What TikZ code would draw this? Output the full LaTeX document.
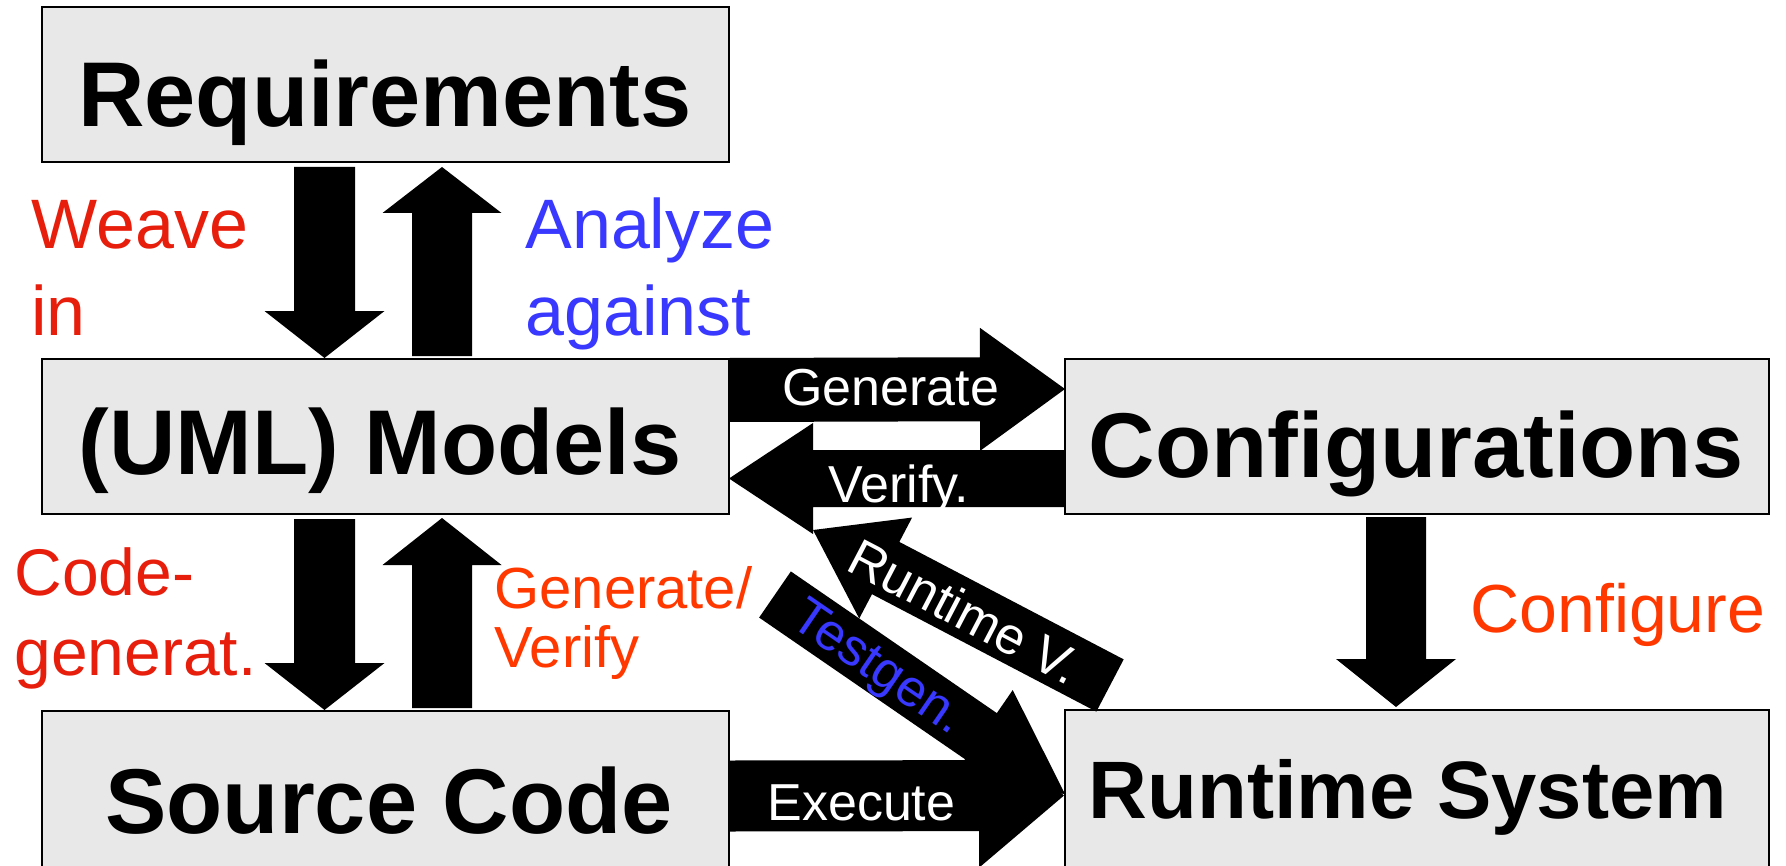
\documentclass[tikz,border=0pt]{standalone}
\usepackage{fontspec}
\setmainfont{Liberation Sans}
\usetikzlibrary{calc}
\definecolor{boxgray}{RGB}{232,232,232}
\definecolor{lblred}{RGB}{232,30,12}
\definecolor{lblorange}{RGB}{255,56,0}
\definecolor{lblblue}{RGB}{56,56,255}
\newcommand\pxfont[1]{\fontsize{#1}{#1}\selectfont}
% #1 tail coordinate, #2 tip coordinate, #3 shaft half width, #4 head half width, #5 head length (pt)
\newcommand\blockarrow[5]{%
  \pgfpointdiff{\pgfpointanchor{#1}{center}}{\pgfpointanchor{#2}{center}}%
  \pgfgetlastxy{\baDx}{\baDy}%
  \pgfmathsetmacro\baAng{atan2(\baDy,\baDx)}%
  \pgfmathsetmacro\baLen{veclen(\baDx,\baDy)}%
  \pgfmathsetmacro\baBase{\baLen-#5}%
  \begin{scope}[shift={(#1)}, rotate=\baAng, x=1pt, y=1pt]
    \fill[black] (0,-#3) -- (\baBase,-#3) -- (\baBase,-#4) -- (\baLen,0)
      -- (\baBase,#4) -- (\baBase,#3) -- (0,#3) -- cycle;
  \end{scope}}
\begin{document}
\begin{tikzpicture}[x=0.5pt,y=-0.5pt,
  box/.style={draw=black, line width=1pt, fill=boxgray, minimum width=343.5pt,
    minimum height=77.5pt, inner sep=0pt},
  tallbox/.style={box, minimum height=100pt},
  widebox/.style={minimum width=352pt},
  boxtext/.style={font=\bfseries\pxfont{46}, anchor=base, inner sep=0pt},
  lblbig/.style={anchor=base west, inner sep=0pt},
  arrowtext/.style={text=white, font=\pxfont{26}, inner sep=0pt}]
\useasboundingbox (0,0) rectangle (1786,866);
\clip (0,0) rectangle (1786,866);
\fill[white] (0,0) rectangle (1786,866);

% boxes
\node[box] (req) at (385.5,84.5) {};
\node[box] (models) at (385.5,436.5) {};
\node[tallbox] (src) at (385.5,811) {};
\node[box, widebox] (conf) at (1417,436.5) {};
\node[tallbox, widebox] (rt) at (1417,810) {};

\node[boxtext] (reqT) at (385,127) {Requirements};
\node[boxtext] (modelsT) at (380,474) {(UML) Models};
\node[boxtext] (srcT) at (389,833) {Source Code};
\node[boxtext] (confT) at (1416,477) {Configurations};
\node[boxtext, font=\bfseries\pxfont{40.75}] (rtT) at (1408,818) {Runtime System};

% arrow end points
\coordinate (weaveS) at (324.5,167);  \coordinate (weaveE) at (324.5,358);
\coordinate (anaS) at (442,356);      \coordinate (anaE) at (442,167);
\coordinate (cgS) at (324.5,519);     \coordinate (cgE) at (324.5,710);
\coordinate (gvS) at (442,708);       \coordinate (gvE) at (442,518);
\coordinate (cfgS) at (1396,517);     \coordinate (cfgE) at (1396,707);
\coordinate (genS) at (729,390);      \coordinate (genE) at (1065,389);
\coordinate (verS) at (1064,478.5);   \coordinate (verE) at (729,478.5);
\coordinate (exeS) at (729,796);      \coordinate (exeE) at (1064,795.5);
\coordinate (rtvS) at (1110,685.5);   \coordinate (rtvE) at (813,530);
\coordinate (tgS) at (775,594.5);     \coordinate (tgE) at (1065,794);

\blockarrow{weaveS}{weaveE}{15.25}{30}{23.5}
\blockarrow{anaS}{anaE}{15}{29.75}{23}
\blockarrow{cgS}{cgE}{15.25}{30}{23.5}
\blockarrow{gvS}{gvE}{15}{29.75}{23.5}
\blockarrow{cfgS}{cfgE}{15}{30}{24}
\blockarrow{genS}{genE}{16}{30.75}{42.5}
\blockarrow{verS}{verE}{14.25}{27.75}{42}
\blockarrow{exeS}{exeE}{17.75}{36}{42.5}
\blockarrow{rtvS}{rtvE}{14.75}{28.5}{41}
\blockarrow{tgS}{tgE}{14}{28}{51}

% labels on arrows
\node[arrowtext, anchor=base west] (genT) at (782,405) {Generate};
\node[arrowtext, anchor=base west] (verT) at (828,502) {Verify.};
\node[arrowtext, anchor=base west] (exeT) at (767,820) {Execute};
\node[arrowtext, rotate=-27.6] (rtvT) at (965,611) {Runtime V.};
\node[arrowtext, text=lblblue, rotate=-34.5] (tgT) at (877,670) {Testgen.};

% side labels
\node[lblbig, text=lblred, font=\pxfont{35}] (weave1) at (31,249) {Weave};
\node[lblbig, text=lblred, font=\pxfont{35}] (weave2) at (31,335) {in};
\node[lblbig, text=lblblue, font=\pxfont{35}] (ana1) at (525,249) {Analyze};
\node[lblbig, text=lblblue, font=\pxfont{35}] (ana2) at (525,335) {against};
\node[lblbig, text=lblred, font=\pxfont{33}] (cg1) at (14,595) {Code-};
\node[lblbig, text=lblred, font=\pxfont{33}] (cg2) at (14,675) {generat.};
\node[lblbig, text=lblorange, font=\pxfont{29}] (gv1) at (494,608) {Generate/};
\node[lblbig, text=lblorange, font=\pxfont{29}] (gv2) at (494,667) {Verify};
\node[lblbig, text=lblorange, font=\pxfont{34}] (cfgT) at (1470,632) {Configure};
\end{tikzpicture}
\end{document}
